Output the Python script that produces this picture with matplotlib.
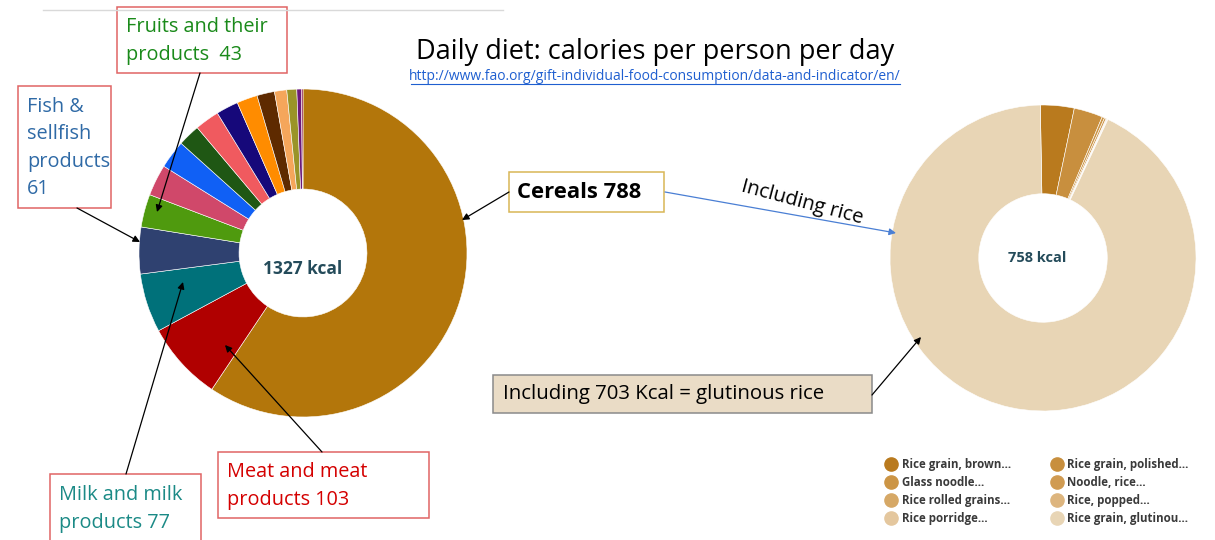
import matplotlib.pyplot as plt
from matplotlib.patches import Rectangle
from matplotlib.lines import Line2D

# left donut: food groups, kcal per person per day
groups = ["Cereals", "Meat and meat products", "Milk and milk products",
          "Fish & sellfish products", "Fruits and their products",
          "other 1", "other 2", "other 3", "other 4", "other 5", "other 6",
          "other 7", "other 8", "other 9", "other 10", "other 11"]
group_kcal = [788, 103, 77, 61, 43, 41, 37, 29, 32, 29, 27, 23, 16, 13, 6, 2]
group_colors = ["#B3760B", "#B00000", "#00717A", "#2F4170", "#4F9A0E",
                "#D0486A", "#1060F5", "#1F5714", "#F05A5F", "#16087A",
                "#FF8C00", "#5E2A00", "#F5A65B", "#9A9428", "#6A1A7A", "#8A1040"]
total_kcal = 1327

# right donut: cereals that are rice
rice = ["Rice grain, brown...", "Rice grain, polished...", "Glass noodle...",
        "Noodle, rice...", "Rice rolled grains...", "Rice, popped...",
        "Rice porridge...", "Rice grain, glutinou..."]
rice_kcal = [27, 23, 2, 1.5, 0.5, 0.5, 0.5, 703]
rice_colors = ["#B97A1E", "#C88F3E", "#CC9545", "#D09B52", "#D6A866",
               "#DDB57E", "#E4C79E", "#E8D5B5"]
rice_total = 758

plt.rcParams['font.family'] = ['Open Sans', 'DejaVu Sans']

W, H = 1215, 540
fig = plt.figure(figsize=(12.15, 5.4), dpi=100)


def donut_axes(cx, cy, r):
    a = fig.add_axes([(cx - r) / W, (H - cy - r) / H, 2 * r / W, 2 * r / H])
    return a


# left donut
axl = donut_axes(303, 253, 164)
axl.pie(group_kcal, colors=group_colors, startangle=90, counterclock=False,
        radius=1, wedgeprops=dict(width=0.61, edgecolor='white', linewidth=0.4))
axl.set_xlim(-1, 1)
axl.set_ylim(-1, 1)
axl.axis('off')
axl.text(0, -0.1, f"{total_kcal} kcal", ha='center', va='center',
         fontsize=12.5, fontweight='bold', color='#244B5A')

# right donut
axr = donut_axes(1043, 258, 153)
wedges, _ = axr.pie(rice_kcal, colors=rice_colors, startangle=91, counterclock=False,
                    radius=1, wedgeprops=dict(width=0.58, edgecolor='white', linewidth=0.4))
axr.set_xlim(-1, 1)
axr.set_ylim(-1, 1)
axr.axis('off')
axr.text(-0.04, 0, f"{rice_total} kcal", ha='center', va='center',
         fontsize=10.5, fontweight='bold', color='#244B5A')

# legend, two columns filled row by row
handles = [Line2D([], [], marker='o', linestyle='none', markersize=9.5,
                  markerfacecolor=c, markeredgecolor=c) for c in rice_colors]
order = [0, 2, 4, 6, 1, 3, 5, 7]
leg = fig.legend([handles[i] for i in order], [rice[i] for i in order],
                 ncol=2, loc='upper left', bbox_to_anchor=(874 / W, 1 - 448 / H),
                 frameon=False, handletextpad=0.3, columnspacing=3.4,
                 labelspacing=0.42, handlelength=1.2,
                 prop=dict(size=8.3, weight='bold'))
for t in leg.get_texts():
    t.set_color('#3A3A3A')

# overlay for titles, boxes and arrows (pixel coordinates)
ax = fig.add_axes([0, 0, 1, 1])
ax.set_xlim(0, W)
ax.set_ylim(H, 0)
ax.axis('off')
ax.patch.set_alpha(0)

ax.plot([43, 503], [10, 10], color='#D9D9D9', lw=1)

ax.text(655, 52, "Daily diet: calories per person per day", ha='center', va='center',
        fontsize=19.5, color='black')
ax.text(655, 76, "http://www.fao.org/gift-individual-food-consumption/data-and-indicator/en/",
        ha='center', va='center', fontsize=10, color='#1F5FD0')
ax.plot([411, 900], [84, 84], color='#1F5FD0', lw=0.8)


def box(x0, y0, x1, y1, edge, face='white'):
    ax.add_patch(Rectangle((x0, y0), x1 - x0, y1 - y0, facecolor=face,
                           edgecolor=edge, lw=1.1))


def arrow(start, end, color='black'):
    ax.annotate('', xy=end, xytext=start,
                arrowprops=dict(arrowstyle='-|>', color=color, lw=0.9,
                                shrinkA=0, shrinkB=0, mutation_scale=10))


lab = 14.3
ls = 1.5
# fruits
box(117, 7, 287, 73, '#E06464')
ax.text(126, 41, "Fruits and their\nproducts  43", va='center', ha='left',
        fontsize=lab, color='#1A8A1A', linespacing=ls)
arrow((200, 73), (157, 212))

# fish
box(18, 86, 111, 208, '#E06464')
ax.text(27, 148, "Fish &\nsellfish\nproducts\n61", va='center', ha='left',
        fontsize=lab, color='#2F6AA6', linespacing=ls)
arrow((77, 208), (140, 242))

# cereals
box(509, 172, 664, 212, '#D8B656')
ax.text(517, 192, "Cereals 788", va='center', ha='left', fontsize=15.8,
        fontweight='bold', color='black')
arrow((509, 192), (462, 220))

# including rice
ax.annotate('', xy=(896, 233), xytext=(665, 192),
            arrowprops=dict(arrowstyle='-|>', color='#4A7FD4', lw=0.9,
                            shrinkA=0, shrinkB=0, mutation_scale=10))
ax.text(802, 203, "Including rice", ha='center', va='center', rotation=-15,
        fontsize=14.5, color='black')

# glutinous rice
box(493, 375, 872, 413, '#8A8A8A', face='#EADCC6')
ax.text(503, 394, "Including 703 Kcal = glutinous rice", va='center', ha='left',
        fontsize=14.7, color='black')
arrow((872, 395), (921, 337))

# milk
box(50, 474, 201, 545, '#E06464')
ax.text(59, 509, "Milk and milk\nproducts 77", va='center', ha='left',
        fontsize=lab, color='#1B8A86', linespacing=ls)
arrow((126, 474), (183, 282))

# meat
box(218, 452, 429, 518, '#E06464')
ax.text(227, 486, "Meat and meat\nproducts 103", va='center', ha='left',
        fontsize=lab, color='#D40000', linespacing=ls)
arrow((322, 452), (225, 345))

plt.savefig('out.png', dpi=100)
